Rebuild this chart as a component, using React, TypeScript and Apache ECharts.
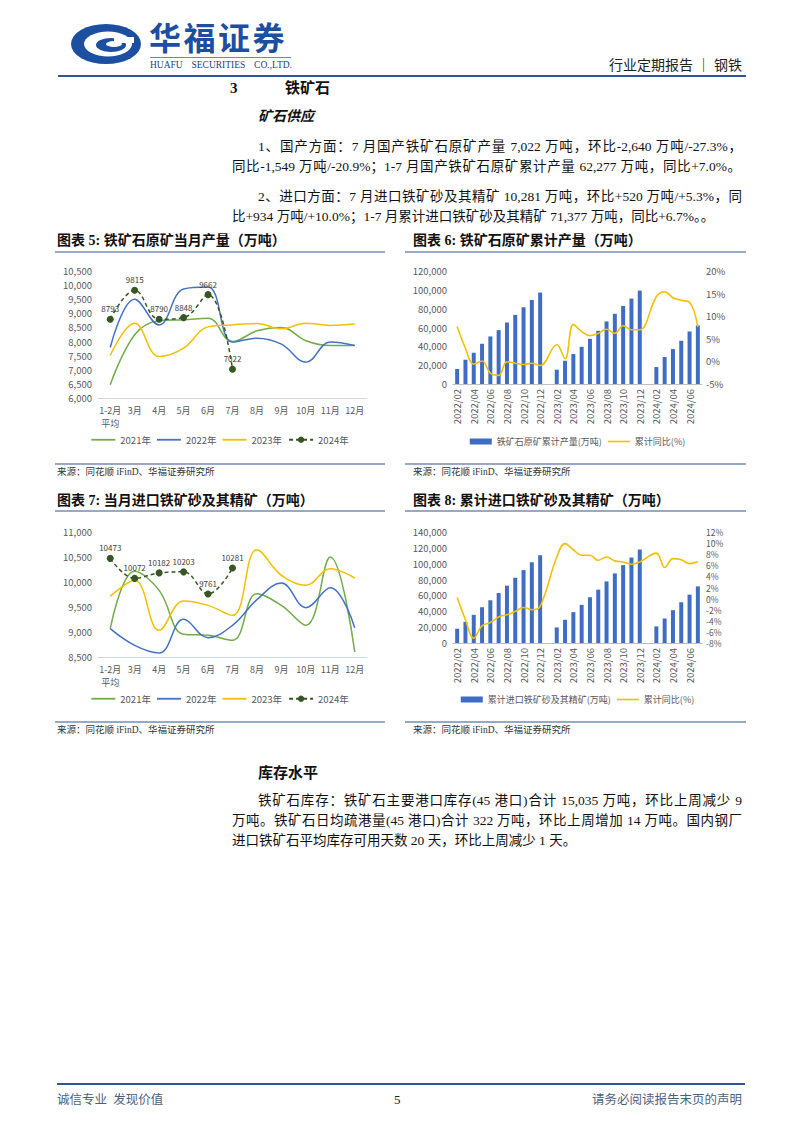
import React, { useEffect, useRef } from "react";
import * as echarts from "echarts";

const FONT = '"Noto Sans CJK SC","Noto Sans",sans-serif';
const SERIF = '"Liberation Serif","Noto Sans CJK SC",serif';

// ---------- data ----------
const monthCats = ["1-2月\n平均", "3月", "4月", "5月", "6月", "7月", "8月", "9月", "10月", "11月", "12月"];
const seriesNames = ["2021年", "2022年", "2023年", "2024年"];

// 图表5 铁矿石原矿当月产量（万吨）
const ore2021 = [6470, 8240, 8740, 8770, 8830, 8000, 8380, 8500, 8030, 7860, 7860];
const ore2022 = [7790, 9500, 8590, 9860, 9930, 7980, 8120, 7910, 7270, 7980, 7860];
const ore2023 = [7510, 8650, 7470, 7770, 8520, 8590, 8640, 8450, 8650, 8570, 8620];
const ore2024 = [8793, 9815, 8790, 8848, 9662, 7022];

// 图表7 当月进口铁矿砂及其精矿（万吨）
const imp2021 = [9067, 10213, 9833, 8953, 8933, 8833, 9767, 9533, 9133, 10500, 8600];
const imp2022 = [9067, 8733, 8580, 9253, 8887, 9133, 9647, 9980, 9487, 9887, 9087];
const imp2023 = [9713, 10033, 9033, 9620, 9533, 9333, 10647, 10133, 9933, 10267, 10080];
const imp2024 = [10473, 10072, 10182, 10203, 9761, 10281];

// 累计图表共用的月份
const cumCats = [
  "2022/02", "2022/03", "2022/04", "2022/05", "2022/06", "2022/07", "2022/08", "2022/09", "2022/10", "2022/11", "2022/12",
  "2023/01", "2023/02", "2023/03", "2023/04", "2023/05", "2023/06", "2023/07", "2023/08", "2023/09", "2023/10", "2023/11", "2023/12",
  "2024/01", "2024/02", "2024/03", "2024/04", "2024/05", "2024/06", "2024/07",
];

// 图表6 铁矿石原矿累计产量
const oreCum = [15900, 25800, 33200, 42700, 50500, 57200, 65300, 73400, 81500, 89300, 97100, null,
  15200, 24700, 31800, 39500, 48000, 56500, 66400, 74500, 82900, 90700, 99200, null,
  18000, 28600, 37100, 45900, 55800, 62277];
const oreCumYoy = [7.7, 2.9, -0.6, 0.1, -2.6, -3.1, -0.1, -0.4, -0.7, -0.4, -0.9, null,
  3.7, 0.6, 8.2, 6.6, 5.7, 6.2, 7.1, 6.2, 7.9, 7.0, 7.0, null,
  14.3, 15.4, 14.1, 13.5, 13.1, 7.6];

// 图表8 累计进口铁矿砂及其精矿
const impCum = [18000, 26700, 35500, 45100, 53900, 63100, 72300, 82300, 91900, 102000, 110700, null,
  19600, 29300, 38900, 48100, 57700, 67300, 77700, 87800, 98200, 107800, 117900, null,
  20900, 30900, 41400, 51400, 61000, 71377];
const impCumYoy = [0.2, -3.8, -7.1, -4.9, -4.3, -3.3, -2.9, -2.3, -1.6, -2.0, -1.4, null,
  7.5, 9.9, 8.8, 7.8, 7.8, 6.9, 7.5, 6.8, 6.6, 6.2, 6.6, null,
  8.2, 5.6, 7.2, 7.0, 6.3, 6.7];

// ---------- styles ----------
const C_GREEN = "#70ad47";
const C_BLUE = "#4472c4";
const C_YELLOW = "#f5c000";
const C_DARK = "#375623";
const LABEL = "#595959";
const LINE_ICON = "path://M0,0L40,0L40,3L0,3Z";

const fmt = (v: number) => v.toLocaleString("en-US");

function monthlyOption(min: number, max: number, s: (number | null)[][], gridTop: number, gridBottom: number, legendTop: number) {
  const colors = [C_GREEN, C_BLUE, C_YELLOW];
  return {
    animation: false,
    textStyle: { fontFamily: FONT },
    grid: { left: 43, right: 18, top: gridTop, bottom: gridBottom },
    legend: {
      top: legendTop,
      left: "center",
      itemWidth: 24,
      itemHeight: 8,
      itemGap: 6,
      data: [
        { name: seriesNames[0], icon: LINE_ICON },
        { name: seriesNames[1], icon: LINE_ICON },
        { name: seriesNames[2], icon: LINE_ICON },
        { name: seriesNames[3] },
      ],
      textStyle: { fontSize: 9.5, color: LABEL, fontFamily: FONT },
    },
    xAxis: {
      type: "category",
      data: monthCats,
      axisLine: { lineStyle: { color: "#d0d5de" } },
      axisTick: { show: false },
      axisLabel: { interval: 0, fontSize: 9, color: LABEL, lineHeight: 13, margin: 6 },
    },
    yAxis: {
      type: "value",
      min,
      max,
      interval: 500,
      splitLine: { show: false },
      axisLine: { show: false },
      axisTick: { show: false },
      axisLabel: { fontSize: 9.5, color: LABEL, formatter: fmt, margin: 6 },
    },
    series: [
      ...colors.map((c, i) => ({
        name: seriesNames[i],
        type: "line",
        data: s[i],
        smooth: 0.4,
        symbol: "none",
        lineStyle: { color: c, width: 1.5 },
        itemStyle: { color: c },
      })),
      {
        name: seriesNames[3],
        type: "line",
        data: s[3],
        smooth: 0.4,
        symbol: "circle",
        symbolSize: 7,
        lineStyle: { color: C_DARK, width: 1.5, type: [4, 3] },
        itemStyle: { color: C_DARK },
        label: { show: true, position: "top", fontSize: 8, color: "#404040", distance: 3 },
        z: 5,
      },
    ],
  };
}

function cumOption(barName: string, bars: (number | null)[], yoy: (number | null)[], lmax: number, rmin: number, rmax: number, rint: number, rFont: number, gridTop: number, gridBottom: number, legendTop: number) {
  return {
    animation: false,
    textStyle: { fontFamily: FONT },
    grid: { left: 48, right: 48, top: gridTop, bottom: gridBottom },
    legend: {
      top: legendTop,
      left: "center",
      itemWidth: 22,
      itemHeight: 6,
      itemGap: 6,
      data: [{ name: barName, icon: "rect" }, { name: "累计同比(%)", icon: LINE_ICON }],
      textStyle: { fontSize: 9, color: LABEL, fontFamily: FONT },
    },
    xAxis: {
      type: "category",
      data: cumCats,
      axisLine: { lineStyle: { color: "#bfbfbf" } },
      axisTick: { show: false },
      axisLabel: { interval: 1, rotate: 90, fontSize: 9.5, color: LABEL, margin: 5 },
    },
    yAxis: [
      {
        type: "value",
        min: 0,
        max: lmax,
        interval: 20000,
        splitLine: { show: false },
        axisLine: { show: false },
        axisTick: { show: false },
        axisLabel: { fontSize: 9.5, color: LABEL, formatter: fmt, margin: 6 },
      },
      {
        type: "value",
        min: rmin,
        max: rmax,
        interval: rint,
        splitLine: { show: false },
        axisLine: { show: false },
        axisTick: { show: false },
        axisLabel: { fontSize: rFont, lineHeight: rFont + 1, color: LABEL, formatter: "{value}%", margin: 4 },
      },
    ],
    series: [
      {
        name: barName,
        type: "bar",
        data: bars,
        barWidth: "48%",
        itemStyle: { color: "#3f6cc4" },
      },
      {
        name: "累计同比(%)",
        type: "line",
        yAxisIndex: 1,
        data: yoy,
        smooth: 0.4,
        connectNulls: true,
        symbol: "none",
        lineStyle: { color: C_YELLOW, width: 1.6 },
        itemStyle: { color: C_YELLOW },
        z: 5,
      },
    ],
  };
}

function Chart({ option, left, top, width, height }: any) {
  const ref = useRef<HTMLDivElement>(null);
  useEffect(() => {
    const c = echarts.init(ref.current!, null, { renderer: "svg" });
    c.setOption(option);
    return () => c.dispose();
  }, []);
  return <div ref={ref} style={{ position: "absolute", left, top, width, height }} />;
}

function T({ x, y, w, size = 13.5, bold = false, italic = false, color = "#111", justify = false, font = SERIF, right = false, children }: any) {
  const lh = Math.round(size * 1.4);
  return (
    <div
      style={{
        position: "absolute",
        left: right ? undefined : x,
        right: right ? 802 - x : undefined,
        top: y - lh / 2,
        width: w,
        height: lh,
        lineHeight: lh + "px",
        fontSize: size,
        fontWeight: bold ? 700 : 400,
        fontStyle: italic ? "italic" : "normal",
        color,
        fontFamily: font,
        whiteSpace: "nowrap",
        textAlign: justify ? "justify" : right ? "right" : "left",
        textAlignLast: justify ? "justify" : undefined,
      } as any}
    >
      {children}
    </div>
  );
}

function HLine({ x1, x2, y, color = "#98a9c8", h = 1.5 }: any) {
  return <div style={{ position: "absolute", left: x1, top: y - h / 2, width: x2 - x1, height: h, background: color }} />;
}

export default function App() {
  return (
    <div style={{ position: "absolute", left: 0, top: 0, width: 802, height: 1133, background: "#fff", overflow: "hidden", fontFamily: SERIF }}>
      {/* header logo */}
      <svg style={{ position: "absolute", left: 70, top: 23 }} width={74} height={42}>
        <ellipse cx={36} cy={21} rx={35} ry={20} fill="#1c4f9f" />
        <ellipse cx={38} cy={21} rx={24} ry={12.5} fill="#fff" />
        <ellipse cx={41} cy={22} rx={15} ry={7} fill="#1c4f9f" />
        <ellipse cx={44} cy={21} rx={8} ry={3} fill="#fff" />
        <rect x={44} y={14} width={20} height={6} fill="#fff" />
      </svg>
      <div style={{ position: "absolute", left: 149, top: 19, fontSize: 32, lineHeight: "34px", height: 34, fontWeight: 700, color: "#1c4f9f", fontFamily: FONT, letterSpacing: 2.5 }}>华福证券</div>
      <HLine x1={150} x2={291} y={57} color="#6f86b0" h={1} />
      <div style={{ position: "absolute", left: 150, top: 60, width: 142, height: 11, fontSize: 9.5, lineHeight: "11px", color: "#1c3f7f", fontFamily: SERIF, textAlign: "justify", textAlignLast: "justify", whiteSpace: "nowrap" } as any}>HUAFU SECURITIES CO.,LTD.</div>
      <T x={742} y={66} size={14} right color="#222" font={SERIF}>行业定期报告 ｜ 钢铁</T>
      <HLine x1={58} x2={746} y={76} color="#2f5597" h={2} />

      {/* section */}
      <T x={230} y={88} size={15} bold>3</T>
      <T x={285} y={88} size={15} bold>铁矿石</T>
      <T x={258} y={117} size={14} bold italic>矿石供应</T>
      <T x={258} y={146} w={484} justify>1、国产方面：7 月国产铁矿石原矿产量 7,022 万吨，环比-2,640 万吨/-27.3%，</T>
      <T x={232} y={166} w={509} justify>同比-1,549 万吨/-20.9%；1-7 月国产铁矿石原矿累计产量 62,277 万吨，同比+7.0%。</T>
      <T x={258} y={196} w={484} justify>2、进口方面：7 月进口铁矿砂及其精矿 10,281 万吨，环比+520 万吨/+5.3%，同</T>
      <T x={232} y={216}>比+934 万吨/+10.0%；1-7 月累计进口铁矿砂及其精矿 71,377 万吨，同比+6.7%。。</T>

      {/* chart titles */}
      <T x={57} y={241} size={14} bold>图表 5: 铁矿石原矿当月产量（万吨）</T>
      <T x={413} y={241} size={14} bold>图表 6: 铁矿石原矿累计产量（万吨）</T>
      <HLine x1={55} x2={385} y={252} />
      <HLine x1={405} x2={746} y={252} />

      <Chart left={55} top={255} width={330} height={205}
        option={monthlyOption(6000, 10500, [ore2021, ore2022, ore2023, ore2024], 16, 62, 175)} />
      <Chart left={405} top={255} width={345} height={205}
        option={cumOption("铁矿石原矿累计产量(万吨)", oreCum, oreCumYoy, 120000, -5, 20, 5, 9.5, 16, 76, 177)} />

      <HLine x1={55} x2={385} y={464} />
      <HLine x1={405} x2={746} y={464} />
      <T x={57} y={472} size={9.5} color="#333">来源：同花顺 iFinD、华福证券研究所</T>
      <T x={413} y={472} size={9.5} color="#333">来源：同花顺 iFinD、华福证券研究所</T>

      <T x={57} y={501} size={14} bold>图表 7: 当月进口铁矿砂及其精矿（万吨）</T>
      <T x={413} y={501} size={14} bold>图表 8: 累计进口铁矿砂及其精矿（万吨）</T>
      <HLine x1={55} x2={385} y={511} />
      <HLine x1={405} x2={746} y={511} />

      <Chart left={55} top={515} width={330} height={205}
        option={monthlyOption(8500, 11000, [imp2021, imp2022, imp2023, imp2024], 17, 63, 174)} />
      <Chart left={405} top={515} width={345} height={205}
        option={cumOption("累计进口铁矿砂及其精矿(万吨)", impCum, impCumYoy, 140000, -8, 12, 2, 8.5, 17, 77, 175)} />

      <HLine x1={55} x2={385} y={722} />
      <HLine x1={405} x2={746} y={722} />
      <T x={57} y={730} size={9.5} color="#333">来源：同花顺 iFinD、华福证券研究所</T>
      <T x={413} y={730} size={9.5} color="#333">来源：同花顺 iFinD、华福证券研究所</T>

      {/* inventory */}
      <T x={258} y={771} size={15} bold font={FONT}>库存水平</T>
      <T x={258} y={800} w={484} justify>铁矿石库存：铁矿石主要港口库存(45 港口)合计 15,035 万吨，环比上周减少 9</T>
      <T x={232} y={820} w={510} justify>万吨。铁矿石日均疏港量(45 港口)合计 322 万吨，环比上周增加 14 万吨。国内钢厂</T>
      <T x={232} y={840}>进口铁矿石平均库存可用天数 20 天，环比上周减少 1 天。</T>

      {/* footer */}
      <HLine x1={57} x2={745} y={1084} color="#2f5597" h={1.5} />
      <T x={57} y={1100} size={12.5} color="#4d5f80">诚信专业&nbsp;&nbsp;发现价值</T>
      <T x={394} y={1100} size={13} color="#222">5</T>
      <T x={742} y={1100} size={12.5} right color="#4d5f80">请务必阅读报告末页的声明</T>
    </div>
  );
}
